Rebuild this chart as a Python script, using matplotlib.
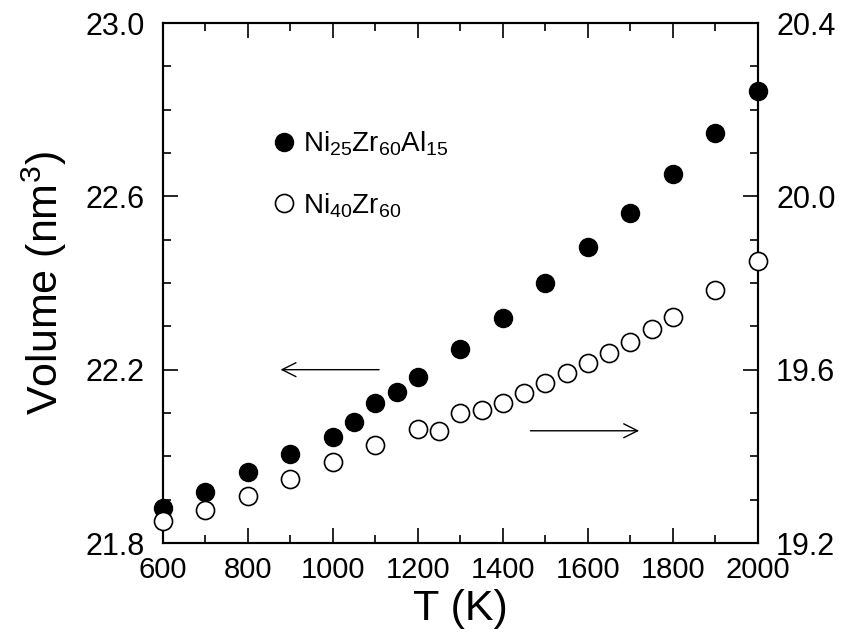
import matplotlib
matplotlib.use("Agg")
import matplotlib.pyplot as plt
from matplotlib.ticker import MultipleLocator, FixedLocator, FormatStrFormatter

plt.rcParams['font.family'] = ['Liberation Sans', 'DejaVu Sans']
plt.rcParams['mathtext.default'] = 'regular'

# Data
T_filled = [600, 700, 800, 900, 1000, 1050, 1100, 1150, 1200, 1300, 1400, 1500, 1600, 1700, 1800, 1900, 2000]
V_filled = [21.880, 21.918, 21.963, 22.005, 22.045, 22.080, 22.122, 22.148, 22.182, 22.248,
            22.319, 22.401, 22.482, 22.562, 22.651, 22.747, 22.842]
T_open = [600, 700, 800, 900, 1000, 1100, 1200, 1250, 1300, 1350, 1400, 1450, 1500, 1550,
          1600, 1650, 1700, 1750, 1800, 1900, 2000]
V_open = [19.251, 19.276, 19.309, 19.348, 19.388, 19.426, 19.463, 19.459, 19.499, 19.508,
          19.522, 19.547, 19.569, 19.592, 19.616, 19.638, 19.665, 19.694, 19.721, 19.785, 19.851]
left_ticks = [21.8, 22.2, 22.6, 23.0]
right_ticks = [19.2, 19.6, 20.0, 20.4]
label_filled = r'Ni$_{25}$Zr$_{60}$Al$_{15}$'
label_open = r'Ni$_{40}$Zr$_{60}$'

fig = plt.figure(figsize=(8.41, 6.32), dpi=100)
ax = fig.add_axes([0.1938, 0.1408, 0.7075, 0.8228])
ax2 = ax.twinx()

ms = 13
ax.plot(T_filled, V_filled, 'o', color='black', ms=ms, clip_on=False, zorder=5)
ax2.plot(T_open, V_open, 'o', mfc='white', mec='black', mew=1.2, ms=ms, clip_on=False, zorder=5)

ax.set_xlim(600, 2000)
ax.set_ylim(21.8, 23.0)
ax2.set_ylim(19.2, 20.4)

ax.xaxis.set_major_locator(MultipleLocator(200))
ax.xaxis.set_minor_locator(MultipleLocator(100))
ax.yaxis.set_major_locator(FixedLocator(left_ticks))
ax.yaxis.set_minor_locator(MultipleLocator(0.1))
ax2.yaxis.set_major_locator(FixedLocator(right_ticks))
ax2.yaxis.set_minor_locator(MultipleLocator(0.1))
ax.yaxis.set_major_formatter(FormatStrFormatter('%.1f'))
ax2.yaxis.set_major_formatter(FormatStrFormatter('%.1f'))

for a in (ax, ax2):
    for s in a.spines.values():
        s.set_linewidth(1.5)
ax.tick_params(axis='both', which='major', direction='in', length=11, width=1.2)
ax.tick_params(axis='x', which='major', pad=9, labelsize=21)
ax.tick_params(axis='y', which='major', pad=13, labelsize=22)
ax.tick_params(axis='both', which='minor', direction='in', length=6, width=1.2)
ax.tick_params(axis='x', which='both', top=True)
ax.tick_params(axis='y', which='both', right=False)
ax2.tick_params(axis='y', which='major', direction='in', length=11, width=1.2, labelsize=22, pad=13)
ax2.tick_params(axis='y', which='minor', direction='in', length=6, width=1.2)

ax.set_xlabel('T (K)', fontsize=31, labelpad=4)
ax.set_ylabel('Volume (nm$^{3}$)', fontsize=31, labelpad=12)

# Legend
leg = ax.legend(
    [ax.lines[0], ax2.lines[0]], [label_filled, label_open],
    loc='upper left', bbox_to_anchor=(0.17, 0.817), frameon=False, fontsize=20,
    handlelength=0.6, handletextpad=0.4, labelspacing=1.2, borderaxespad=0)

# Arrows
ax.annotate('', xy=(870, 22.2), xytext=(1115, 22.2),
            arrowprops=dict(arrowstyle='->', lw=1.0, color='black', mutation_scale=25))
ax2.annotate('', xy=(1727, 19.459), xytext=(1458, 19.459),
             arrowprops=dict(arrowstyle='->', lw=1.0, color='black', mutation_scale=25))

fig.savefig('out.png', dpi=100)
